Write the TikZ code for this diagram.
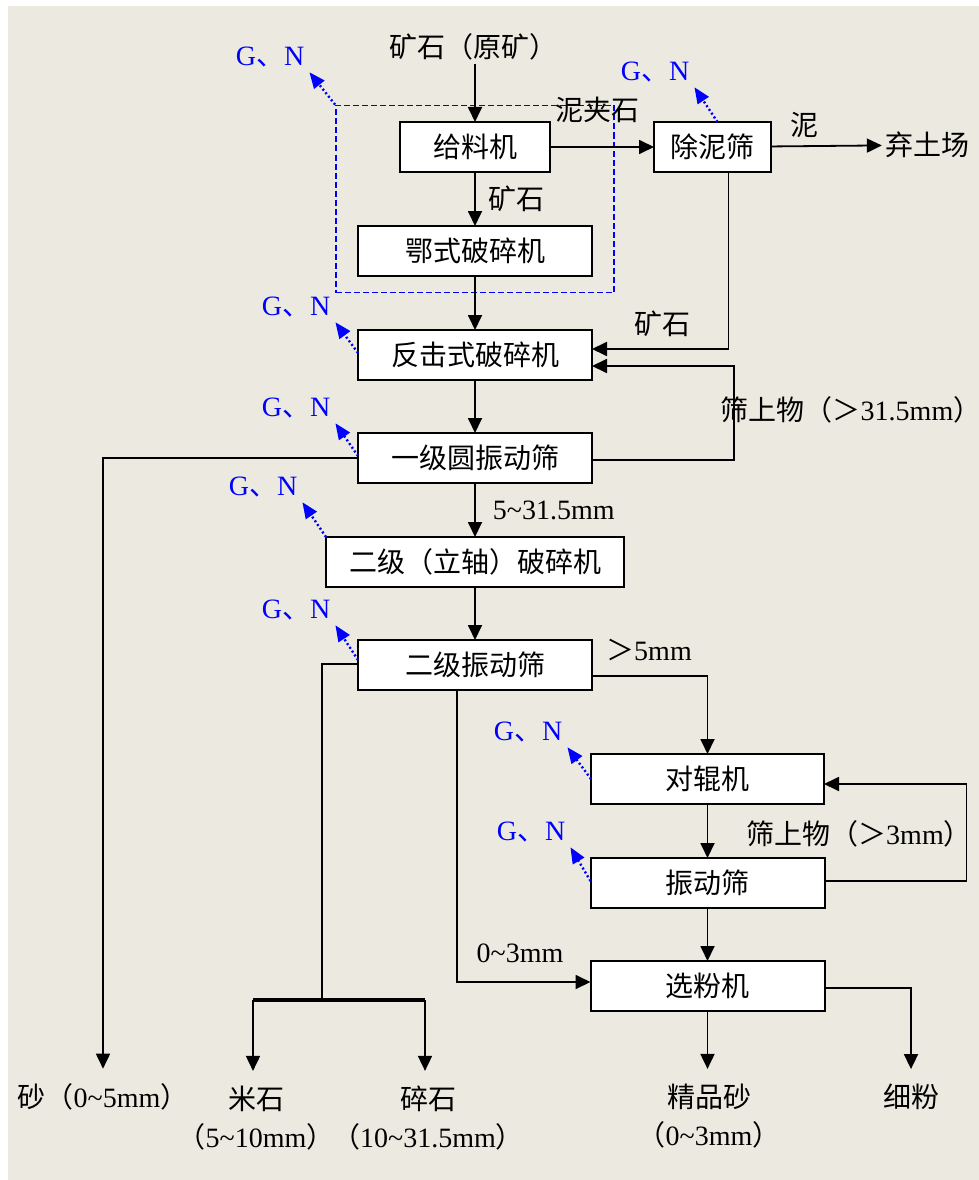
\documentclass[tikz,border=0pt]{standalone}
\usepackage{fontspec}
\setmainfont{Noto Sans CJK SC}
\newfontfamily\lat{Liberation Serif}
\newcommand\en[1]{{\lat #1}}
\newcommand\tl{\textasciitilde}
\newcommand\gnt{\en{G}、\en{N}}
\usetikzlibrary{arrows.meta,fit,positioning}
\definecolor{paper}{RGB}{236,234,224}
\definecolor{gnblue}{RGB}{0,0,255}
\tikzset{
  machine/.style={draw,line width=2pt,fill=white,minimum width=234pt,minimum height=50pt,inner sep=0pt,outer sep=0pt,font=\fontsize{28}{32}\selectfont},
  group/.style={draw=gnblue,line width=1.8pt,dash pattern=on 6pt off 3pt,inner xsep=22pt,inner ysep=16.5pt},
  lab/.style={font=\fontsize{28}{38}\selectfont,inner sep=3pt},
  outlab/.style={lab,align=center,outer sep=12pt},
  gn/.style={text=gnblue,inner sep=5pt,font=\fontsize{28}{32}\selectfont},
  line/.style={line width=1.8pt},
  bar/.style={line width=3.5pt},
  flow/.style={line width=1.8pt,-{Triangle[length=15pt,width=14pt]}},
  gnarrow/.style={gnblue,line width=2.4pt,dash pattern=on 2pt off 2.5pt,-{Triangle[length=16pt,width=13pt]}},
}

\begin{document}
\begin{tikzpicture}[x=1pt,y=-1pt]
  \fill[white] (0,0) rectangle (979,1180);
  \fill[paper] (8,6) rectangle (979,1180);
  \useasboundingbox (0,0) rectangle (979,1180);

  % main column
  \node[machine,minimum width=150pt] (feed) at (475,147) {给料机};
  \node[machine,below=54pt of feed] (jaw) {鄂式破碎机};
  \node[machine,below=54pt of jaw] (impact) {反击式破碎机};
  \node[machine,below=53pt of impact] (scr1) {一级圆振动筛};
  \node[machine,below=54pt of scr1,minimum width=298pt] (vsi) {二级（立轴）破碎机};
  \node[machine,below=53pt of vsi] (scr2) {二级振动筛};
  \node[machine,minimum width=117pt,right=104pt of feed] (mud) {除泥筛};
  % sand line
  \node[machine,minimum width=233pt] (roll) at (707.5,779) {对辊机};
  \node[machine,below=54pt of roll] (scr3) {振动筛};
  \node[machine,below=53pt of scr3] (sep) {选粉机};
  \node[group,fit=(feed) (jaw)] (grp) {};

  % inputs and products
  \node[lab] (raw) at (473,47) {矿石（原矿）};
  \node[lab] (dump) at (927,145) {弃土场};
  \node[outlab] (sand) at (103,1097) {砂（\en{0\tl5mm}）};
  \node[outlab] (rice) at (256,1118) {米石\\（\en{5\tl10mm}）};
  \node[outlab] (gravel) at (428,1118) {碎石\\（\en{10\tl31.5mm}）};
  \node[outlab] (fsand) at (709,1116) {精品砂\\（\en{0\tl3mm}）};
  \node[outlab] (powder) at (911,1097) {细粉};
  \coordinate (barL) at (253,1000);
  \coordinate (barR) at (425,1000);
  \coordinate (barM) at (322,1000);

  % flows
  \draw[flow] (raw.south -| feed.north) -- (feed.north);
  \draw[flow] (feed) -- node[lab,right=10pt] {矿石} (jaw);
  \draw[flow] (feed) -- (mud);
  \node[lab] at (597,110) {泥夹石};
  \draw[flow] (mud) -- node[lab,above=4pt,pos=0.3] {泥} (dump);
  \draw[flow] ([xshift=16pt]mud.south) |- ([yshift=6pt]impact.east);
  \node[lab] at (662,324) {矿石};
  \draw[flow] (jaw) -- (impact);
  \draw[flow] (impact) -- (scr1);
  \draw[flow] ([yshift=-2pt]scr1.east) -- ++(142,0) |- ([yshift=-11pt]impact.east);
  \node[lab] at (851,410) {筛上物（＞\en{31.5mm}）};
  \draw[flow] (scr1.west) -| (sand);
  \draw[flow] (scr1) -- node[lab,right=14pt] {\en{5\tl31.5mm}} (vsi);
  \draw[flow] (vsi) -- (scr2);
  \draw[flow] ([yshift=-11pt]scr2.east) -| (roll);
  \node[lab] at (649,650) {＞\en{5mm}};
  \draw[line] ([yshift=1pt]scr2.west) -| (barM);
  \draw[bar] (barL) -- (barR);
  \draw[flow] (barL) -- (barL |- rice.north);
  \draw[flow] (barR) -- (barR |- gravel.north);
  \draw[flow] ([xshift=-18pt]scr2.south) |- ([yshift=4pt]sep.west);
  \node[lab] at (520,953) {\en{0\tl3mm}};
  \draw[flow] (roll) -- (scr3);
  \draw[flow] ([yshift=2pt]scr3.east) -- ++(142,0) |- ([yshift=-5pt]roll.east);
  \node[lab] at (859,834) {筛上物（＞\en{3mm}）};
  \draw[flow] (scr3) -- (sep);
  \draw[flow] (sep.south) -- (sep.south |- fsand.north);
  \draw[flow] ([yshift=-2pt]sep.east) -| (powder);

  % G, N emission points
  \node[gn] (gn0) at (270,57) {\gnt};
  \node[gn] (gn1) at (655,72) {\gnt};
  \node[gn] (gn2) at (296,307) {\gnt};
  \node[gn] (gn3) at (296,408) {\gnt};
  \node[gn] (gn4) at (263,487) {\gnt};
  \node[gn] (gn5) at (296,610) {\gnt};
  \node[gn] (gn6) at (528,732) {\gnt};
  \node[gn] (gn7) at (531,832) {\gnt};
  \draw[gnarrow] (grp.north west) -- (gn0.south east);
  \draw[gnarrow] ([xshift=5pt]mud.north) -- (gn1.south east);
  \draw[gnarrow] ([yshift=2pt]impact.west) -- (gn2.south east);
  \draw[gnarrow] ([yshift=2pt]scr1.west) -- (gn3.south east);
  \draw[gnarrow] (vsi.north west) -- (gn4.south east);
  \draw[gnarrow] ([yshift=5pt]scr2.west) -- (gn5.south east);
  \draw[gnarrow] (roll.west) -- (gn6.south east);
  \draw[gnarrow] ([yshift=2pt]scr3.west) -- (gn7.south east);
\end{tikzpicture}
\end{document}
